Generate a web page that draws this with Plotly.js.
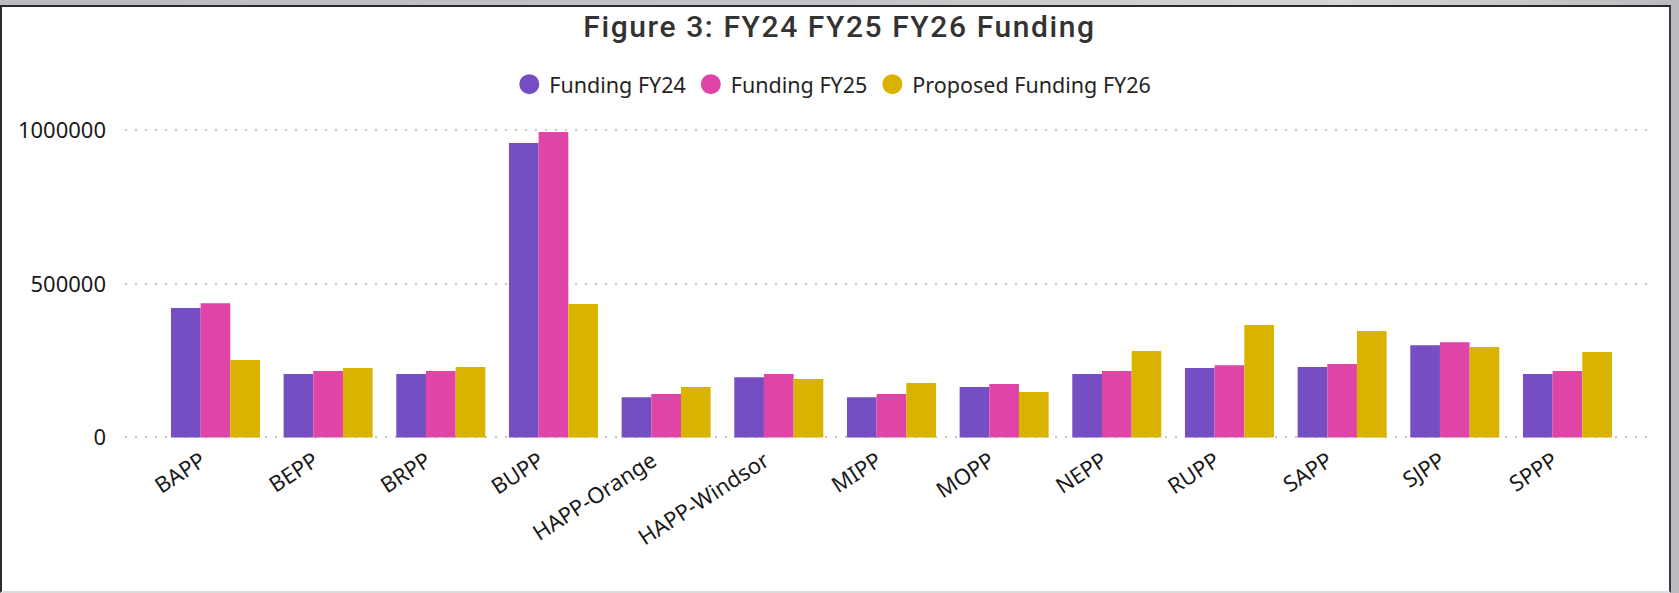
<!DOCTYPE html>
<html>
<head>
<meta charset="utf-8">
<script src="https://cdn.plot.ly/plotly-3.0.1.min.js"></script>
<style>
  html, body { margin: 0; padding: 0; width: 1679px; height: 593px; overflow: hidden;
    background: linear-gradient(90deg, #bcbcc0 0%, #c4c4c8 50%, #d6d6d9 80%, #bcbcc0 100%); }
  #panel { position: absolute; left: 0; top: 5px; width: 1671px; height: 588px; box-sizing: border-box;
    background: #ffffff; border-top: 2px solid #2a2a2a; border-left: 2px solid #2a2a2a;
    border-right: 2px solid #3a3a3a; border-bottom: 2px solid #dcdcdc; }
  #chart { position: absolute; left: 0; top: 0; width: 1679px; height: 593px; }
  .gtitle { letter-spacing: 1.6px; }
</style>
</head>
<body>
<div id="panel"></div>
<div id="chart"></div>
<script>
const categories = ["BAPP", "BEPP", "BRPP", "BUPP", "HAPP-Orange", "HAPP-Windsor", "MIPP", "MOPP", "NEPP", "RUPP", "SAPP", "SJPP", "SPPP"];
const fundingFY24 = [421000, 206000, 206000, 958000, 131000, 196000, 131000, 164000, 206000, 226000, 229000, 300000, 206000];
const fundingFY25 = [437000, 216000, 216000, 994000, 141000, 206000, 141000, 174000, 216000, 235000, 239000, 310000, 216000];
const proposedFY26 = [252000, 226000, 229000, 434000, 164000, 190000, 177000, 148000, 281000, 366000, 346000, 294000, 278000];
const seriesNames = ["Funding FY24", "Funding FY25", "Proposed Funding FY26"];
const seriesColors = ["#744EC2", "#E044A7", "#D9B300"];
const yTickValues = [0, 500000, 1000000];
const yTickLabels = ["0", "500000", "1000000"];

const seriesValues = [fundingFY24, fundingFY25, proposedFY26];
const traces = [];
seriesValues.forEach((vals, i) => {
  traces.push({
    type: "bar", x: categories, y: vals, name: seriesNames[i],
    marker: { color: seriesColors[i] }, showlegend: false, legendgroup: "g" + i,
    hoverinfo: "x+y+name"
  });
});
// legend proxies (circle markers, no data points)
seriesValues.forEach((vals, i) => {
  traces.push({
    type: "scatter", mode: "markers", x: [null], y: [null], name: seriesNames[i],
    legendgroup: "g" + i, showlegend: true,
    marker: { color: seriesColors[i], size: 16, line: { color: seriesColors[i], width: 4 } }
  });
});

const layout = {
  width: 1679, height: 593,
  paper_bgcolor: "rgba(0,0,0,0)", plot_bgcolor: "rgba(0,0,0,0)",
  margin: { l: 125, r: 24, t: 121, b: 151, pad: 0 },
  barmode: "group", bargap: 0.21, bargroupgap: 0,
  title: {
    text: "Figure 3: FY24 FY25 FY26 Funding",
    font: { family: "Roboto, sans-serif", size: 30, weight: 500, color: "#333333" },
    x: 0.5, xref: "container", xanchor: "center",
    y: 0.955, yref: "container", yanchor: "middle"
  },
  showlegend: true,
  legend: {
    orientation: "h", xref: "container", x: 0.496, xanchor: "center",
    yref: "container", y: 0.858, yanchor: "middle",
    font: { family: "Noto Sans, sans-serif", size: 21.5, color: "#252423" },
    itemwidth: 30, tracegroupgap: 0, bgcolor: "rgba(0,0,0,0)"
  },
  xaxis: {
    type: "category", categoryorder: "array", categoryarray: categories,
    range: [-0.803, 12.777], showgrid: false, zeroline: false, showline: false,
    ticks: "", tickangle: -33, automargin: false, ticklabelstandoff: 1, ticklabelshift: -14,
    tickfont: { family: "Noto Sans, sans-serif", size: 22, color: "#1a1a1a" }
  },
  yaxis: {
    range: [-15000, 1030000], tickmode: "array", tickvals: yTickValues, ticktext: yTickLabels,
    showgrid: true, gridcolor: "#c4c4c4", gridwidth: 1.5, griddash: "2px,8px",
    zeroline: false, showline: false, ticks: "", automargin: false, ticklabelstandoff: 18,
    tickfont: { family: "Noto Sans, sans-serif", size: 22, color: "#1a1a1a" }
  }
};

Plotly.newPlot("chart", traces, layout, { displayModeBar: false, responsive: false });
</script>
</body>
</html>
